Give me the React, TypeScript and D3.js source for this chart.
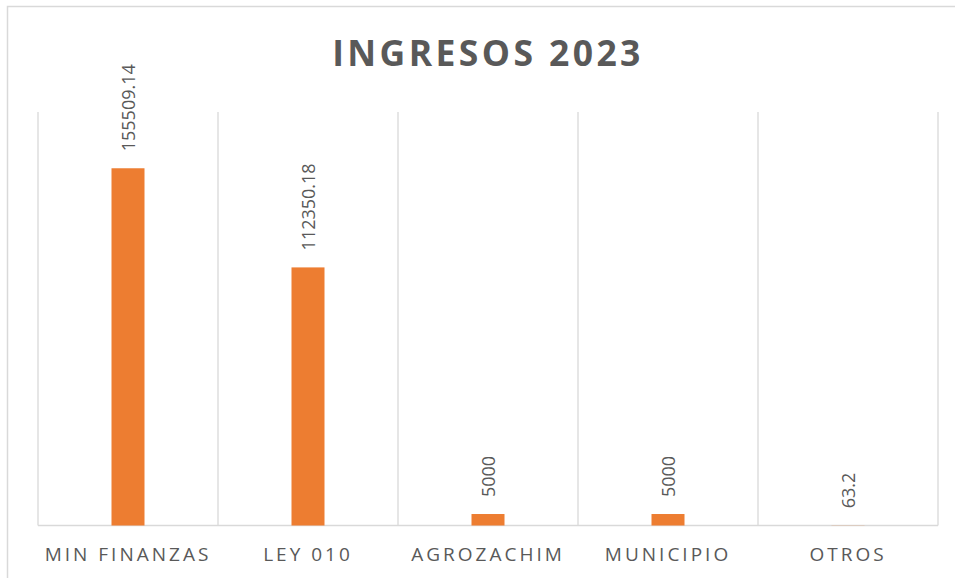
import React from "react";
import * as d3 from "d3";

const categories = ["MIN FINANZAS", "LEY 010", "AGROZACHIM", "MUNICIPIO", "OTROS"];
const values = [155509.14, 112350.18, 5000, 5000, 63.2];
const valueLabels = ["155509.14", "112350.18", "5000", "5000", "63.2"];
const title = "INGRESOS 2023";
const yMax = 180000;

const W = 955;
const H = 578;
const plot = { left: 38, right: 938, top: 112, bottom: 525.5 };
const FONT = "'Open Sans', sans-serif";
const TEXT = "#595959";
const GRID = "#d9d9d9";
const BAR = "#ED7D31";

export default function App() {
  const x = d3.scaleBand<string>().domain(categories).range([plot.left, plot.right]).paddingInner(0).paddingOuter(0);
  const y = d3.scaleLinear().domain([0, yMax]).range([plot.bottom, plot.top]);
  const bw = 33;
  const bounds = d3.range(categories.length + 1).map((i) => plot.left + i * x.bandwidth());

  return (
    <svg width={W} height={H} style={{ position: "absolute", left: 0, top: 0, display: "block" }}>
      <rect x={0} y={0} width={W} height={H} fill="#ffffff" />
      <rect x={7.5} y={6.5} width={W + 20} height={H + 20} fill="none" stroke={GRID} strokeWidth={1.5} />
      <text x={488} y={65.5} textAnchor="middle" fontFamily={FONT} fontWeight={700} fontSize={35.5} letterSpacing={3.4} fill={TEXT}>
        {title}
      </text>
      {bounds.map((bx, i) => (
        <line key={"g" + i} x1={bx} x2={bx} y1={plot.top} y2={plot.bottom} stroke={GRID} strokeWidth={1.3} />
      ))}
      <line x1={plot.left} x2={plot.right} y1={plot.bottom} y2={plot.bottom} stroke={GRID} strokeWidth={1.5} />
      {categories.map((c, i) => {
        const cx = (x(c) as number) + x.bandwidth() / 2;
        const top = y(values[i]);
        return (
          <g key={c}>
            <rect x={cx - bw / 2} y={top} width={bw} height={plot.bottom - top} fill={BAR} />
            <text
              transform={`translate(${cx},${top - 17}) rotate(-90)`}
              textAnchor="start"
              dominantBaseline="central"
              fontFamily={FONT}
              fontSize={18}
              fill={TEXT}
            >
              {valueLabels[i]}
            </text>
            <text x={cx} y={561} textAnchor="middle" fontFamily={FONT} fontSize={19} letterSpacing={3} fill={TEXT}>
              {c}
            </text>
          </g>
        );
      })}
    </svg>
  );
}
